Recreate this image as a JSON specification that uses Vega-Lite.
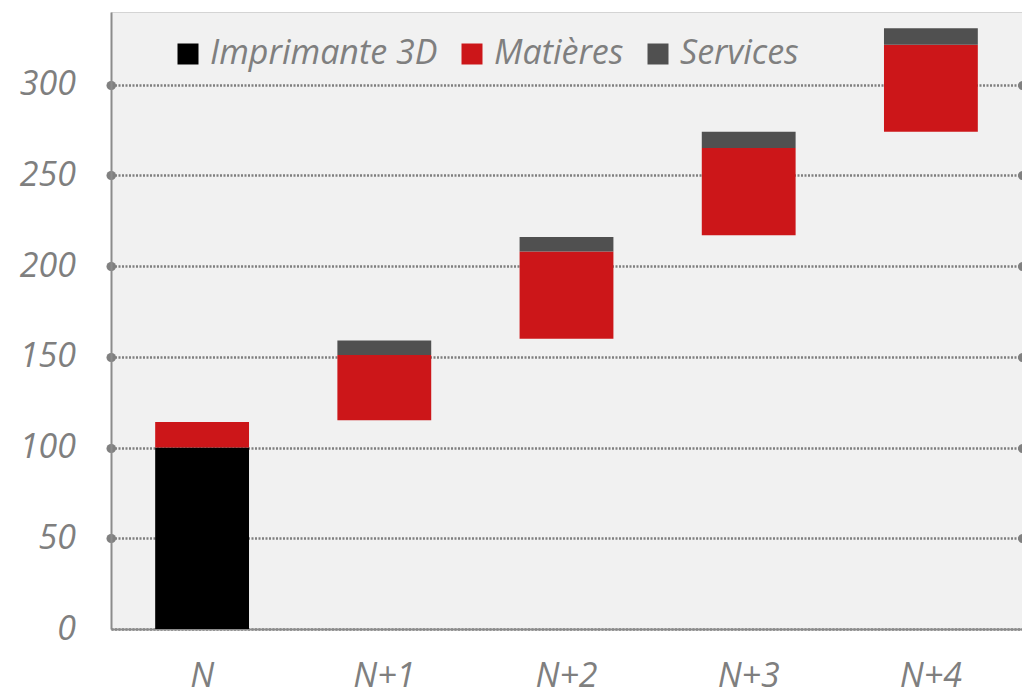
{
  "$schema": "https://vega.github.io/schema/vega-lite/v6.json",
  "autosize": {"type": "none"},
  "padding": {"left": 111, "top": 12, "right": 0, "bottom": 62},
  "width": 911,
  "height": 617,
  "background": "white",
  "config": {
    "view": {"fill": "#f1f1f1", "stroke": "#d4d4d4", "strokeWidth": 1},
    "font": "Open Sans"
  },
  "data": {
    "values": [
      {"periode": "N", "poste": "Imprimante 3D", "debut": 0, "fin": 100},
      {"periode": "N", "poste": "Matières", "debut": 100, "fin": 114},
      {"periode": "N+1", "poste": "Matières", "debut": 115, "fin": 151},
      {"periode": "N+1", "poste": "Services", "debut": 151, "fin": 159},
      {"periode": "N+2", "poste": "Matières", "debut": 160, "fin": 208},
      {"periode": "N+2", "poste": "Services", "debut": 208, "fin": 216},
      {"periode": "N+3", "poste": "Matières", "debut": 217, "fin": 265},
      {"periode": "N+3", "poste": "Services", "debut": 265, "fin": 274},
      {"periode": "N+4", "poste": "Matières", "debut": 274, "fin": 322},
      {"periode": "N+4", "poste": "Services", "debut": 322, "fin": 331}
    ]
  },
  "layer": [
    {
      "mark": {"type": "bar"},
      "encoding": {
        "x": {
          "field": "periode", "type": "nominal", "sort": ["N", "N+1", "N+2", "N+3", "N+4"],
          "scale": {"paddingInner": 0.485, "paddingOuter": 0.2425},
          "axis": {
            "title": null, "labelAngle": 0, "ticks": false,
            "domainColor": "#8c8c8c", "domainWidth": 2,
            "labelFont": "Open Sans", "labelFontSize": 34, "labelFontStyle": "italic",
            "labelColor": "#7f7f7f", "labelPadding": 30
          }
        },
        "y": {
          "field": "debut", "type": "quantitative",
          "scale": {"domain": [0, 340], "nice": false, "zero": true},
          "axis": {
            "title": null, "values": [0, 50, 100, 150, 200, 250, 300],
            "domainColor": "#8c8c8c", "domainWidth": 2,
            "grid": true, "gridColor": "#7f7f7f", "gridWidth": 2.5, "gridDash": [2, 1.5],
            "ticks": true, "tickColor": "#808080", "tickWidth": 9, "tickSize": 0.5, "tickCap": "round",
            "tickOpacity": {"condition": {"test": "datum.value === 0", "value": 0}, "value": 1},
            "labelFont": "Open Sans", "labelFontSize": 34, "labelFontStyle": "italic",
            "labelColor": "#7f7f7f", "labelPadding": 35
          }
        },
        "y2": {"field": "fin"},
        "color": {
          "field": "poste", "type": "nominal",
          "scale": {"domain": ["Imprimante 3D", "Matières", "Services"], "range": ["#000000", "#cc1619", "#505050"]},
          "legend": {
            "title": null, "orient": "none", "direction": "horizontal",
            "legendX": 60, "legendY": 25,
            "symbolType": "square", "symbolSize": 441, "symbolStrokeWidth": 0,
            "labelFont": "Open Sans", "labelFontSize": 34, "labelFontStyle": "italic",
            "labelColor": "#7f7f7f", "labelOffset": 5, "columnPadding": 17, "labelLimit": 400
          }
        }
      }
    },
    {
      "mark": {"type": "bar", "opacity": 0},
      "encoding": {
        "x": {"field": "periode", "type": "nominal", "sort": ["N", "N+1", "N+2", "N+3", "N+4"]},
        "y": {
          "field": "debut", "type": "quantitative",
          "axis": {
            "orient": "right", "title": null, "values": [50, 100, 150, 200, 250, 300],
            "domain": false, "labels": false, "grid": false,
            "ticks": true, "tickColor": "#808080", "tickWidth": 9, "tickSize": 0.5, "tickCap": "round", "tickOffset": 0
          }
        },
        "y2": {"field": "fin"}
      }
    }
  ],
  "resolve": {"axis": {"y": "independent"}}
}
